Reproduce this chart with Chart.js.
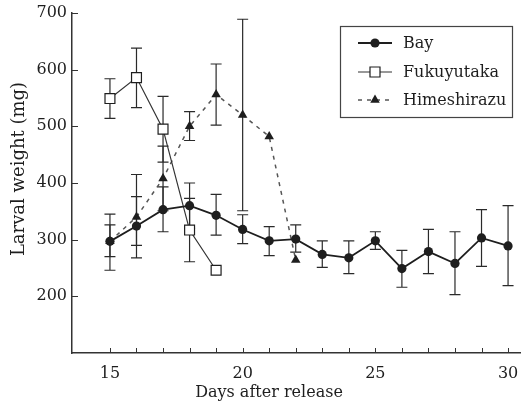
<!DOCTYPE html>
<html>
<head>
<meta charset="utf-8">
<script src="https://cdn.jsdelivr.net/npm/chart.js@4/dist/chart.umd.min.js"></script>
<style>
  html, body { margin: 0; padding: 0; background: #fff; }
  #wrap { width: 521px; height: 406px; position: relative; }
</style>
</head>
<body>
<div id="wrap"><canvas id="c"></canvas></div>
<script>
// ---- data ----
const bayDays  = [15, 16, 17, 18, 19, 20, 21, 22, 23, 24, 25, 26, 27, 28, 29, 30];
const bayMean  = [297, 324, 353, 360, 343, 318, 298, 301, 274, 268, 298, 249, 279, 258, 303, 289];
const bayLow   = [246, 268, 314, 320, 308, 293, 272, 278, 251, 240, 283, 216, 240, 203, 253, 219];
const bayHigh  = [345, 376, 393, 400, 380, 344, 323, 326, 298, 298, 314, 281, 318, 314, 353, 360];

const fukuDays = [15, 16, 17, 18, 19];
const fukuMean = [549, 586, 495, 317, 246];
const fukuLow  = [514, 533, 437, 261, null];
const fukuHigh = [584, 638, 553, 373, null];

const himeDays = [15, 16, 17, 18, 19, 20, 21, 22];
const himeMean = [297, 340, 408, 500, 556, 520, 482, 264];
const himeLow  = [270, 290, 351, 475, 502, 351, null, null];
const himeHigh = [326, 415, 465, 526, 610, 689, null, null];

const yTickValues = [200, 300, 400, 500, 600, 700];
const xLabelValues = [15, 20, 25, 30];
const xTickMarks = [15, 16, 17, 18, 19, 20, 21, 22, 23, 24, 25, 26, 27, 28, 29, 30];
const seriesNames = ['Bay', 'Fukuyutaka', 'Himeshirazu'];
const xTitle = 'Days after release';
const yTitle = 'Larval weight (mg)';

const INK = '#1e1e1e';
const FONT = "'DejaVu Serif', serif";

function pts(xs, ys) { return xs.map((x, i) => ({ x: x, y: ys[i] })); }

const errBars = [
  { days: bayDays, low: bayLow, high: bayHigh },
  { days: fukuDays, low: fukuLow, high: fukuHigh },
  { days: himeDays, low: himeLow, high: himeHigh }
];

const errorBarPlugin = {
  id: 'errorBars',
  beforeDatasetsDraw(chart) {
    const { ctx, scales: { x, y } } = chart;
    ctx.save();
    ctx.strokeStyle = '#2a2a2a';
    ctx.lineWidth = 1.2;
    errBars.forEach(s => {
      s.days.forEach((d, i) => {
        if (s.low[i] == null) return;
        const px = x.getPixelForValue(d);
        const pl = y.getPixelForValue(s.low[i]);
        const ph = y.getPixelForValue(s.high[i]);
        ctx.beginPath();
        ctx.moveTo(px, pl); ctx.lineTo(px, ph);
        ctx.moveTo(px - 5.5, pl); ctx.lineTo(px + 5.5, pl);
        ctx.moveTo(px - 5.5, ph); ctx.lineTo(px + 5.5, ph);
        ctx.stroke();
      });
    });
    ctx.restore();
  }
};

const innerTickPlugin = {
  id: 'innerTicks',
  afterDraw(chart) {
    const { ctx, scales: { x, y }, chartArea } = chart;
    ctx.save();
    ctx.strokeStyle = '#333';
    ctx.lineWidth = 1;
    ctx.beginPath();
    yTickValues.forEach(v => {
      const py = Math.round(y.getPixelForValue(v)) + 0.5;
      ctx.moveTo(chartArea.left, py); ctx.lineTo(chartArea.left + 6, py);
    });
    xTickMarks.forEach(v => {
      const px = Math.round(x.getPixelForValue(v)) + 0.5;
      ctx.moveTo(px, chartArea.bottom); ctx.lineTo(px, chartArea.bottom - 5);
    });
    ctx.stroke();

    // axis titles (positioned like the reference)
    ctx.fillStyle = INK;
    ctx.textAlign = 'center';
    ctx.textBaseline = 'middle';
    ctx.font = "16px " + FONT;
    ctx.fillText(xTitle, 269, 393);
    ctx.save();
    ctx.translate(19, 169);
    ctx.rotate(-Math.PI / 2);
    ctx.font = "18px " + FONT;
    ctx.fillText(yTitle, 0, 0);
    ctx.restore();
    ctx.restore();
  }
};

function drawMarker(ctx, style, cx, cy) {
  ctx.save();
  ctx.fillStyle = INK; ctx.strokeStyle = INK; ctx.lineWidth = 1.2; ctx.setLineDash([]);
  ctx.beginPath();
  if (style === 'circle') {
    ctx.arc(cx, cy, 4.6, 0, Math.PI * 2); ctx.fill();
  } else if (style === 'rect') {
    ctx.fillStyle = '#fff';
    ctx.rect(cx - 5, cy - 5, 10, 10); ctx.fill(); ctx.stroke();
  } else {
    const r = 5.5;
    ctx.moveTo(cx, cy - r);
    ctx.lineTo(cx + r * 0.866, cy + r * 0.5);
    ctx.lineTo(cx - r * 0.866, cy + r * 0.5);
    ctx.closePath(); ctx.fill();
  }
  ctx.restore();
}

const legendPlugin = {
  id: 'boxLegend',
  afterDraw(chart) {
    const ctx = chart.ctx;
    const bx = 340, by = 26, bw = 172, bh = 91;
    ctx.save();
    ctx.fillStyle = '#fff';
    ctx.fillRect(bx, by, bw, bh);
    ctx.strokeStyle = '#444'; ctx.lineWidth = 1.2;
    ctx.strokeRect(bx + 0.5, by + 0.5, bw, bh);
    const rows = [43, 72, 100];
    const styles = ['circle', 'rect', 'triangle'];
    const dashes = [[], [], [4, 5]];
    const widths = [1.8, 1.2, 1.5];
    const colors = [INK, '#333', '#555'];
    rows.forEach((ry, i) => {
      ctx.save();
      ctx.strokeStyle = colors[i]; ctx.lineWidth = widths[i]; ctx.setLineDash(dashes[i]);
      ctx.beginPath(); ctx.moveTo(358, ry); ctx.lineTo(392, ry); ctx.stroke();
      ctx.restore();
      drawMarker(ctx, styles[i], 375, ry);
      ctx.fillStyle = INK;
      ctx.font = "16px " + FONT;
      ctx.textBaseline = 'middle';
      ctx.textAlign = 'left';
      ctx.fillText(seriesNames[i], 403, ry + 1);
    });
    ctx.restore();
  }
};

function zeroPad(s) { s.paddingLeft = 0; s.paddingRight = 0; s.paddingTop = 0; s.paddingBottom = 0; }

new Chart(document.getElementById('c'), {
  type: 'line',
  data: {
    datasets: [
      {
        label: seriesNames[0], data: pts(bayDays, bayMean),
        borderColor: INK, borderWidth: 1.8, backgroundColor: INK,
        pointStyle: 'circle', pointRadius: 4.6, pointBackgroundColor: INK, pointBorderColor: INK, pointBorderWidth: 0,
        tension: 0, order: 1
      },
      {
        label: seriesNames[1], data: pts(fukuDays, fukuMean),
        borderColor: '#333', borderWidth: 1.2, backgroundColor: '#fff',
        pointStyle: 'rect', pointRadius: 7, pointBackgroundColor: '#fff', pointBorderColor: INK, pointBorderWidth: 1.2,
        tension: 0, order: 2
      },
      {
        label: seriesNames[2], data: pts(himeDays, himeMean),
        borderColor: '#555', borderWidth: 1.5, borderDash: [4, 5], backgroundColor: INK,
        pointStyle: 'triangle', pointRadius: 5.5, pointBackgroundColor: INK, pointBorderColor: INK, pointBorderWidth: 0,
        tension: 0, order: 3
      }
    ]
  },
  options: {
    responsive: true,
    maintainAspectRatio: false,
    animation: false,
    layout: { autoPadding: false, padding: { top: 13, right: 1, left: 0, bottom: 0 } },
    plugins: { legend: { display: false }, tooltip: { enabled: false } },
    scales: {
      x: {
        type: 'linear', min: 13.57, max: 30.45,
        grid: { display: false, drawTicks: false },
        border: { display: true, color: '#333', width: 1.5 },
        afterBuildTicks: s => { s.ticks = xLabelValues.map(v => ({ value: v })); },
        afterFit: s => { s.height = 53; zeroPad(s); },
        ticks: { color: INK, padding: 11, font: { family: FONT, size: 16 }, maxRotation: 0 },
        title: { display: false }
      },
      y: {
        type: 'linear', min: 100, max: 700,
        grid: { display: false, drawTicks: false },
        border: { display: true, color: '#333', width: 1.5 },
        afterBuildTicks: s => { s.ticks = yTickValues.map(v => ({ value: v })); },
        afterFit: s => { s.width = 72; zeroPad(s); },
        ticks: { color: INK, padding: 5, font: { family: FONT, size: 16 } },
        title: { display: false }
      }
    }
  },
  plugins: [errorBarPlugin, innerTickPlugin, legendPlugin]
});
</script>
</body>
</html>
